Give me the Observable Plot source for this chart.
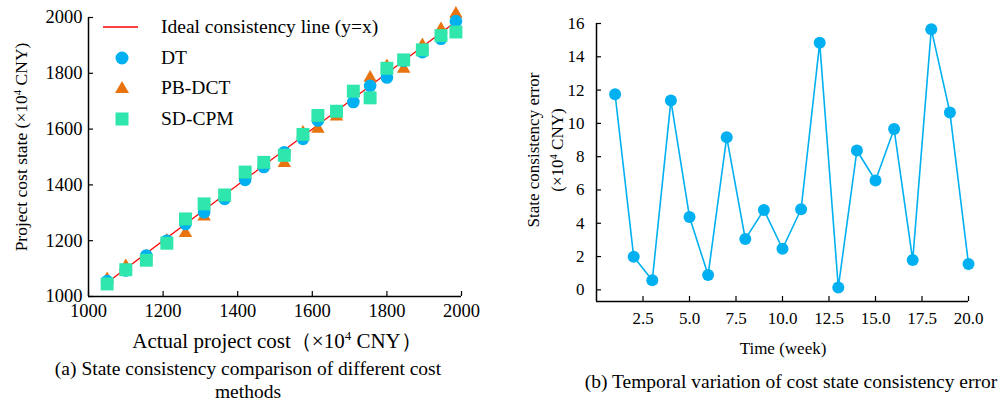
<!DOCTYPE html>
<html>
<head>
<meta charset="utf-8">
<script src="https://cdn.jsdelivr.net/npm/d3@7"></script>
<script src="https://cdn.jsdelivr.net/npm/@observablehq/plot@0.6"></script>
<style>
  html, body { margin: 0; padding: 0; background: #fff; }
  #wrap { position: relative; width: 1003px; height: 403px; overflow: hidden; font-family: "Liberation Serif", "Times New Roman", serif; color: #000; }
  .abs { position: absolute; white-space: nowrap; line-height: 1; }
  .c { transform: translate(-50%, -50%); }
  .rot { transform: translate(-50%, -50%) rotate(-90deg); }
  sup { font-size: 0.62em; vertical-align: 0.55em; line-height: 0; }
  #left, #right { position: absolute; top: 0; }
  #left { left: 0; }
  #right { left: 500px; }
  .leg { position: absolute; display: flex; align-items: center; font-size: 19.5px; }
</style>
</head>
<body>
<div id="wrap">
  <div id="left"></div>
  <div id="right"></div>
</div>
<script>
// ---------- Data: chart (a) ----------
const actualCost = [1050, 1100, 1155, 1210, 1260, 1310, 1365, 1420, 1470, 1525, 1575, 1615, 1665, 1710, 1755, 1800, 1845, 1895, 1945, 1985];
const dtState    = [1055, 1093, 1147, 1200, 1260, 1302, 1350, 1418, 1464, 1517, 1565, 1631, 1665, 1697, 1755, 1785, 1845, 1876, 1924, 1987];
const pbdctState = [1062, 1108, 1143, 1200, 1227, 1286, 1355, 1437, 1470, 1478, 1587, 1601, 1645, 1730, 1784, 1825, 1816, 1900, 1958, 2013];
const sdcpmState = [1045, 1096, 1130, 1191, 1278, 1332, 1364, 1446, 1481, 1506, 1581, 1649, 1664, 1736, 1712, 1818, 1848, 1884, 1935, 1948];
const idealLine  = [1045, 1990];
const costTicks  = [1000, 1200, 1400, 1600, 1800, 2000];

// ---------- Data: chart (b) ----------
const weeks      = [1, 2, 3, 4, 5, 6, 7, 8, 9, 10, 11, 12, 13, 14, 15, 16, 17, 18, 19, 20];
const stateError = [11.75, 1.99, 0.58, 11.37, 4.38, 0.89, 9.17, 3.05, 4.8, 2.47, 4.84, 14.84, 0.14, 8.37, 6.57, 9.66, 1.79, 15.66, 10.66, 1.55];
const weekTicks  = [2.5, 5.0, 7.5, 10.0, 12.5, 15.0, 17.5, 20.0];
const errorTicks = [0, 2, 4, 6, 8, 10, 12, 14, 16];

const BLUE = "#00B0F0", ORANGE = "#E9730F", MINT = "#2FE6AC";
const FONT = "Liberation Serif, Times New Roman, serif";

const rowsA = actualCost.map((x, i) => ({x, dt: dtState[i], pb: pbdctState[i], sd: sdcpmState[i]}));
const idealRows = idealLine.map(v => ({x: v, y: v}));

const left = Plot.plot({
  width: 480, height: 320,
  marginLeft: 88, marginRight: 19, marginTop: 17, marginBottom: 24,
  style: {fontFamily: FONT, fontSize: "18.5px", color: "#000", background: "transparent", overflow: "visible"},
  x: {domain: [1000, 2000], label: null},
  y: {domain: [1000, 2000], label: null},
  marks: [
    Plot.axisX(costTicks, {tickSize: -5, tickPadding: 12, tickFormat: d => String(d), label: null, strokeWidth: 1.2}),
    Plot.axisY(costTicks, {tickSize: -5, tickPadding: 11, tickFormat: d => String(d), label: null, strokeWidth: 1.2}),
    Plot.ruleX([1000], {stroke: "#000", strokeWidth: 1.5}),
    Plot.ruleY([1000], {stroke: "#000", strokeWidth: 1.5}),
    Plot.line(idealRows, {x: "x", y: "y", stroke: "#FF0000", strokeWidth: 1.3}),
    Plot.dot(rowsA, {x: "x", y: "pb", symbol: "triangle", fill: ORANGE, r: 5}),
    Plot.dot(rowsA, {x: "x", y: "dt", symbol: "circle", fill: BLUE, r: 6.3}),
    Plot.dot(rowsA, {x: "x", y: "sd", symbol: "square", fill: MINT, r: 7.3})
  ]
});
document.getElementById("left").appendChild(left);

const rowsB = weeks.map((w, i) => ({w, e: stateError[i]}));
const right = Plot.plot({
  width: 503, height: 330,
  marginLeft: 96, marginRight: 35, marginTop: 23, marginBottom: 29,
  style: {fontFamily: FONT, fontSize: "17px", color: "#000", background: "transparent", overflow: "visible"},
  x: {domain: [0, 20], label: null},
  y: {domain: [-0.7, 16], label: null},
  marks: [
    Plot.axisX(weekTicks, {tickSize: -5, tickPadding: 15, tickFormat: d => d.toFixed(1), label: null, strokeWidth: 1.2}),
    Plot.axisY(errorTicks, {tickSize: -5, tickPadding: 17, tickFormat: d => String(d), label: null, strokeWidth: 1.2}),
    Plot.ruleX([0], {stroke: "#000", strokeWidth: 1.5}),
    Plot.ruleY([-0.7], {stroke: "#000", strokeWidth: 1.5}),
    Plot.line(rowsB, {x: "w", y: "e", stroke: BLUE, strokeWidth: 1.6}),
    Plot.dot(rowsB, {x: "w", y: "e", fill: BLUE, r: 6})
  ]
});
document.getElementById("right").appendChild(right);

// ---------- Text and legend ----------
const wrap = document.getElementById("wrap");
function label(html, x, y, size, cls) {
  const d = document.createElement("div");
  d.className = "abs " + cls;
  d.style.left = x + "px";
  d.style.top = y + "px";
  d.style.fontSize = size + "px";
  d.innerHTML = html;
  wrap.appendChild(d);
}
label("Project cost state (×10<sup>4</sup> CNY)", 22, 147, 17.5, "rot");
label("Actual project cost（×10<sup>4</sup> CNY）", 277, 341, 21, "c");
label("(a) State consistency comparison of different cost", 248, 369, 19.5, "c");
label("methods", 248, 392, 19.5, "c");
label("State consistency error", 533, 150, 17, "rot");
label("(×10<sup>4</sup> CNY)", 557, 150, 17, "rot");
label("Time (week)", 783, 348, 17, "c");
label("(b) Temporal variation of cost state consistency error", 791, 382, 19.5, "c");

const legendItems = [
  {name: "Ideal consistency line (y=x)", kind: "line", color: "#FF0000"},
  {name: "DT", kind: "circle", color: BLUE},
  {name: "PB-DCT", kind: "triangle", color: ORANGE},
  {name: "SD-CPM", kind: "square", color: MINT}
];
legendItems.forEach((it, i) => {
  const d = document.createElement("div");
  d.className = "leg";
  d.style.left = "101px";
  d.style.top = (16 + i * 30.5) + "px";
  d.style.height = "22px";
  let icon;
  if (it.kind === "line") icon = `<line x1="2" y1="11" x2="37" y2="11" stroke="${it.color}" stroke-width="1.3"/>`;
  else if (it.kind === "circle") icon = `<circle cx="21" cy="11" r="6.5" fill="${it.color}"/>`;
  else if (it.kind === "triangle") icon = `<path d="M21,4 L28,16 L14,16 Z" fill="${it.color}"/>`;
  else icon = `<rect x="14.5" y="4.5" width="13" height="13" fill="${it.color}"/>`;
  d.innerHTML = `<svg width="60" height="22" style="display:block">${icon}</svg><span>${it.name}</span>`;
  wrap.appendChild(d);
});
</script>
</body>
</html>
